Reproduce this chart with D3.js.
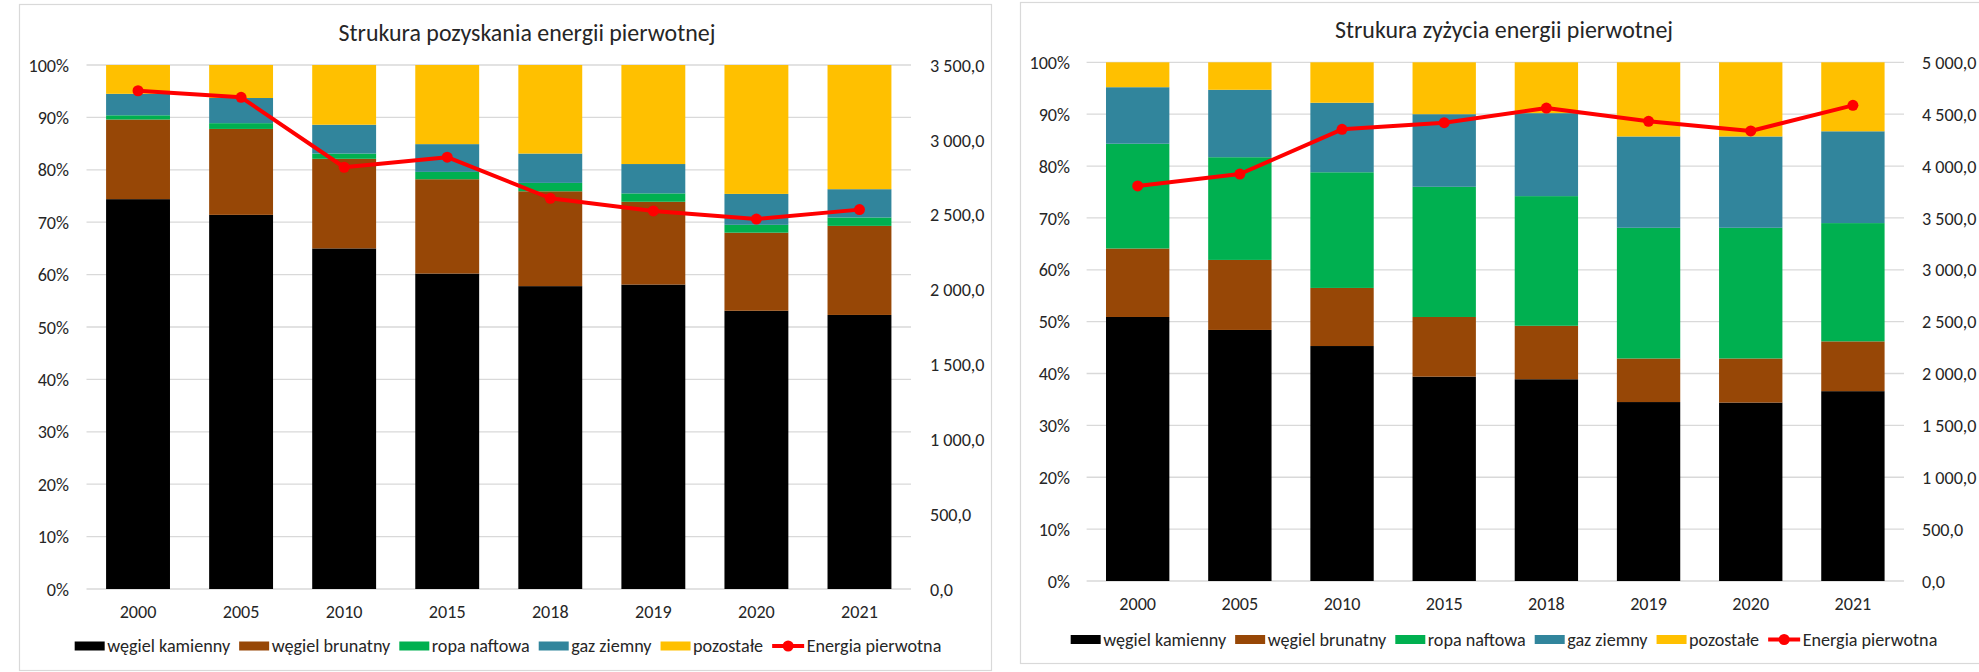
<!DOCTYPE html>
<html>
<head>
<meta charset="utf-8">
<script src="https://cdn.jsdelivr.net/npm/d3@7/dist/d3.min.js"></script>
<style>
  html, body { margin: 0; padding: 0; background: #ffffff; }
  svg { display: block; }
</style>
</head>
<body>
<svg id="chart" width="1979" height="672"></svg>
<script>
// ---------------- DATA ----------------
const categories = ["2000", "2005", "2010", "2015", "2018", "2019", "2020", "2021"];
const seriesNames = ["węgiel kamienny", "węgiel brunatny", "ropa naftowa", "gaz ziemny", "pozostałe"];
const lineName = "Energia pierwotna";

// Struktura pozyskania (production) – shares in %
const prodKamienny  = [74.4, 71.4, 65.0, 60.2, 57.8, 58.1, 53.1, 52.3];
const prodBrunatny  = [15.2, 16.4, 17.1, 18.0, 18.1, 15.8, 14.9, 17.0];
const prodRopa      = [0.8, 1.1, 1.0, 1.4, 1.6, 1.6, 1.5, 1.6];
const prodGaz       = [4.1, 4.8, 5.5, 5.3, 5.6, 5.6, 5.9, 5.4];
const prodPozostale = [5.5, 6.3, 11.4, 15.1, 16.9, 18.9, 24.6, 23.7];
const prodEnergy    = [3328, 3284, 2817, 2884, 2610, 2525, 2471, 2534];

// Struktura zużycia (consumption) – shares in %
const consKamienny  = [50.9, 48.4, 45.3, 39.4, 38.9, 34.5, 34.4, 36.6];
const consBrunatny  = [13.2, 13.5, 11.2, 11.5, 10.3, 8.4, 8.5, 9.6];
const consRopa      = [20.2, 19.8, 22.3, 25.1, 25.0, 25.2, 25.2, 22.8];
const consGaz       = [10.9, 13.0, 13.4, 14.0, 16.0, 17.6, 17.6, 17.7];
const consPozostale = [4.8, 5.3, 7.8, 10.0, 9.8, 14.3, 14.3, 13.3];
const consEnergy    = [3808, 3923, 4354, 4418, 4559, 4431, 4338, 4585];

// Tick values
const percentTicks = [0, 10, 20, 30, 40, 50, 60, 70, 80, 90, 100];
const prodEnergyTicks = [0, 500, 1000, 1500, 2000, 2500, 3000, 3500];
const consEnergyTicks = [0, 500, 1000, 1500, 2000, 2500, 3000, 3500, 4000, 4500, 5000];

const titles = ["Strukura pozyskania energii pierwotnej", "Strukura zyżycia energii pierwotnej"];

// ---------------- STYLE ----------------
const colors = ["#000000", "#974706", "#00b050", "#31859c", "#ffc000"];
const lineColor = "#ff0000";
const textColor = "#262626";
const gridColor = "#d9d9d9";
const fontFamily = "Carlito, Calibri, Lato, 'Liberation Sans', sans-serif";

const svg = d3.select("#chart");

// fit font size so that a reference string gets a target width
function fitSize(str, targetWidth) {
  const t = svg.append("text").attr("font-family", fontFamily).attr("font-size", 100).text(str);
  const w = t.node().getComputedTextLength();
  t.remove();
  return 100 * targetWidth / w;
}
const tickSize = fitSize("węgiel kamienny", 123);
const titleSize = fitSize(titles[0], 377);

const numFmt = d3.formatLocale({ decimal: ",", thousands: " ", grouping: [3], currency: ["", ""] }).format(",.1f");

function drawChart(cfg) {
  const g = svg.append("g");

  // frame
  g.append("rect")
    .attr("x", cfg.frame.x + 0.5).attr("y", cfg.frame.y + 0.5)
    .attr("width", cfg.frame.w).attr("height", cfg.frame.h)
    .attr("fill", "#ffffff").attr("stroke", gridColor).attr("stroke-width", 1.2);

  // title
  g.append("text")
    .attr("x", cfg.titleX).attr("y", cfg.titleY)
    .attr("text-anchor", "middle").attr("dominant-baseline", "central")
    .attr("font-family", fontFamily).attr("font-size", titleSize).attr("fill", textColor)
    .text(cfg.title);

  const x = d3.scaleBand().domain(categories).range([cfg.x0, cfg.x1]).paddingInner(0.38).paddingOuter(0.19);
  const y = d3.scaleLinear().domain([0, 100]).range([cfg.yBottom, cfg.yTop]);
  const y2 = d3.scaleLinear().domain([0, cfg.energyMax]).range([cfg.yBottom, cfg.yTop]);

  // gridlines
  g.append("g").selectAll("line").data(percentTicks).join("line")
    .attr("x1", cfg.x0).attr("x2", cfg.x1)
    .attr("y1", d => y(d)).attr("y2", d => y(d))
    .attr("stroke", gridColor).attr("stroke-width", 1.3);

  // left axis labels
  const leftAxis = d3.axisLeft(y).tickValues(percentTicks).tickFormat(d => d + "%").tickSize(0).tickPadding(0);
  const la = g.append("g").attr("transform", `translate(${cfg.leftLabelX},0)`).call(leftAxis);
  la.select(".domain").remove();
  la.selectAll("text").attr("font-family", fontFamily).attr("font-size", tickSize).attr("fill", textColor).attr("dy", "0.34em");

  // right axis labels
  const rightAxis = d3.axisRight(y2).tickValues(cfg.energyTicks).tickFormat(numFmt).tickSize(0).tickPadding(0);
  const ra = g.append("g").attr("transform", `translate(${cfg.rightLabelX},0)`).call(rightAxis);
  ra.select(".domain").remove();
  ra.selectAll("text").attr("font-family", fontFamily).attr("font-size", tickSize).attr("fill", textColor).attr("dy", "0.34em");

  // stacked bars
  const rows = categories.map((c, i) => {
    const r = { cat: c };
    seriesNames.forEach((s, k) => { r[s] = cfg.series[k][i]; });
    return r;
  });
  const stacked = d3.stack().keys(seriesNames)(rows);
  g.append("g").selectAll("g").data(stacked).join("g")
    .attr("fill", (d, k) => colors[k])
    .selectAll("rect").data(d => d).join("rect")
    .attr("x", d => x(d.data.cat))
    .attr("width", x.bandwidth())
    .attr("y", d => y(Math.min(100, d[1])))
    .attr("height", d => y(d[0]) - y(Math.min(100, d[1])));

  // x labels
  const bottomAxis = d3.axisBottom(x).tickSize(0).tickPadding(0);
  const ba = g.append("g").attr("transform", `translate(0,${cfg.xLabelY})`).call(bottomAxis);
  ba.select(".domain").remove();
  ba.selectAll("text").attr("font-family", fontFamily).attr("font-size", tickSize).attr("fill", textColor).attr("dy", "0.34em");

  // line
  const line = d3.line().x((d, i) => x(categories[i]) + x.bandwidth() / 2).y(d => y2(d));
  g.append("path").datum(cfg.energy)
    .attr("d", line).attr("fill", "none").attr("stroke", lineColor)
    .attr("stroke-width", 4).attr("stroke-linejoin", "round");
  g.append("g").selectAll("circle").data(cfg.energy).join("circle")
    .attr("cx", (d, i) => x(categories[i]) + x.bandwidth() / 2)
    .attr("cy", d => y2(d)).attr("r", 5.5).attr("fill", lineColor);

  // legend
  const items = seriesNames.map((s, k) => ({ name: s, color: colors[k], type: "rect" }))
    .concat([{ name: lineName, color: lineColor, type: "line" }]);
  const lg = g.append("g");
  const swW = 30, gap1 = 2.5, gap2 = 9;
  let cursor = 0;
  const placed = [];
  items.forEach(it => {
    const grp = lg.append("g");
    if (it.type === "rect") {
      grp.append("rect").attr("x", cursor).attr("y", -4.5).attr("width", swW).attr("height", 9).attr("fill", it.color);
    } else {
      grp.append("line").attr("x1", cursor).attr("x2", cursor + swW + 2).attr("y1", 0).attr("y2", 0)
        .attr("stroke", it.color).attr("stroke-width", 4);
      grp.append("circle").attr("cx", cursor + (swW + 2) / 2).attr("cy", 0).attr("r", 5.5).attr("fill", it.color);
    }
    const tx = cursor + swW + (it.type === "line" ? 2 : 0) + gap1;
    const t = grp.append("text").attr("x", tx).attr("y", 0).attr("dy", "0.34em")
      .attr("font-family", fontFamily).attr("font-size", tickSize).attr("fill", textColor).text(it.name);
    cursor = tx + t.node().getComputedTextLength() + gap2;
  });
  const total = cursor - gap2;
  lg.attr("transform", `translate(${cfg.legendCX - total / 2},${cfg.legendY})`);
}

drawChart({
  frame: { x: 19, y: 4, w: 972, h: 666 },
  title: titles[0], titleX: 527, titleY: 32,
  x0: 86.5, x1: 911, yTop: 65, yBottom: 589,
  leftLabelX: 69, rightLabelX: 930,
  xLabelY: 612, legendY: 646, legendCX: 508,
  series: [prodKamienny, prodBrunatny, prodRopa, prodGaz, prodPozostale],
  energy: prodEnergy, energyMax: 3500, energyTicks: prodEnergyTicks
});

drawChart({
  frame: { x: 1020, y: 2, w: 965, h: 661 },
  title: titles[1], titleX: 1504, titleY: 29,
  x0: 1086.6, x1: 1904, yTop: 62.3, yBottom: 581,
  leftLabelX: 1070, rightLabelX: 1922,
  xLabelY: 604, legendY: 639.5, legendCX: 1504,
  series: [consKamienny, consBrunatny, consRopa, consGaz, consPozostale],
  energy: consEnergy, energyMax: 5000, energyTicks: consEnergyTicks
});
</script>
</body>
</html>
